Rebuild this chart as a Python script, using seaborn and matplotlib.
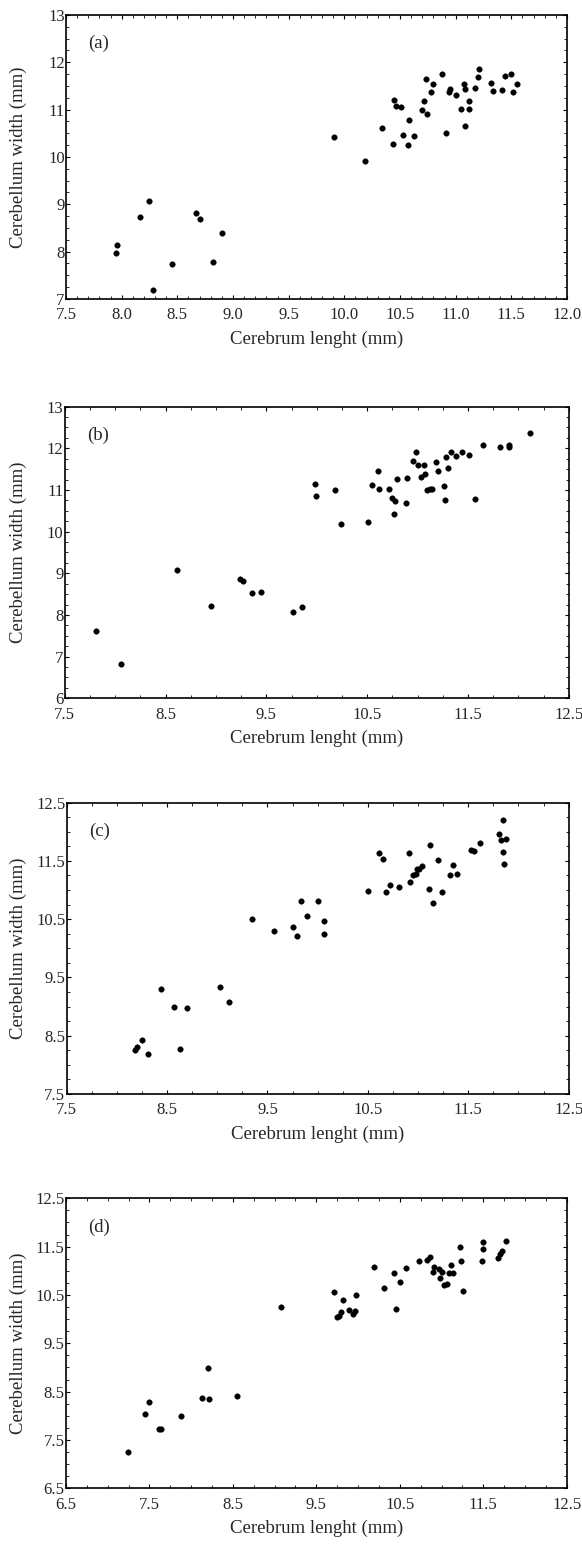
import numpy as np
import pandas as pd
import matplotlib
matplotlib.use("Agg")
import matplotlib.pyplot as plt
import seaborn as sns
from matplotlib.ticker import MultipleLocator, FixedLocator, FormatStrFormatter

# panel (a)
a_len = [7.955, 7.946, 8.168, 8.246, 8.279, 8.452, 8.671, 8.704, 8.824, 8.905,
         9.908, 10.183, 10.342, 10.444, 10.465, 10.513, 10.435, 10.525, 10.573, 10.582,
         10.624, 10.696, 10.717, 10.744, 10.738, 10.795, 10.783, 10.879, 10.915, 10.948,
         10.936, 11.002, 11.074, 11.086, 11.047, 11.119, 11.119, 11.086, 11.173, 11.197,
         11.209, 11.317, 11.338, 11.413, 11.446, 11.494, 11.512, 11.548]
a_wid = [8.13, 7.96, 8.72, 9.07, 7.19, 7.74, 8.81, 8.69, 7.79, 8.39,
         10.43, 9.91, 10.61, 11.20, 11.08, 11.06, 10.28, 10.47, 10.26, 10.77,
         10.45, 10.99, 11.18, 10.91, 11.65, 11.55, 11.38, 11.75, 10.51, 11.44,
         11.37, 11.31, 11.54, 11.44, 11.02, 11.17, 11.02, 10.65, 11.46, 11.68,
         11.86, 11.56, 11.39, 11.42, 11.70, 11.75, 11.38, 11.54]

# panel (b)
b_len = [7.808, 8.062, 8.614, 8.952, 9.243, 9.266, 9.355, 9.448, 9.762, 9.855,
         9.983, 9.990, 10.182, 10.238, 10.509, 10.552, 10.612, 10.622, 10.718, 10.751,
         10.777, 10.767, 10.800, 10.889, 10.899, 10.956, 10.989, 11.009, 11.062, 11.032,
         11.079, 11.098, 11.122, 11.148, 11.181, 11.201, 11.267, 11.271, 11.281, 11.307,
         11.337, 11.384, 11.440, 11.506, 11.572, 11.648, 11.814, 11.903, 11.907, 12.119]
b_wid = [7.62, 6.82, 9.08, 8.22, 8.86, 8.82, 8.53, 8.55, 8.08, 8.18,
         11.14, 10.86, 11.01, 10.18, 10.23, 11.11, 11.45, 11.03, 11.03, 10.80,
         10.74, 10.42, 11.26, 10.68, 11.29, 11.69, 11.92, 11.60, 11.60, 11.31,
         11.39, 11.00, 11.02, 11.03, 11.66, 11.46, 11.10, 10.76, 11.78, 11.52,
         11.92, 11.81, 11.90, 11.84, 10.78, 12.08, 12.02, 12.08, 12.02, 12.37]

# panel (c)
c_len = [8.184, 8.204, 8.247, 8.313, 8.443, 8.569, 8.695, 8.629, 9.024, 9.114,
         9.349, 9.568, 9.754, 9.794, 9.834, 9.890, 10.003, 10.063, 10.066, 10.504,
         10.607, 10.654, 10.677, 10.720, 10.813, 10.906, 10.920, 10.953, 10.979, 10.992,
         11.012, 11.039, 11.115, 11.112, 11.149, 11.202, 11.239, 11.318, 11.345, 11.388,
         11.528, 11.557, 11.617, 11.810, 11.826, 11.846, 11.879, 11.843, 11.853]
c_wid = [8.25, 8.31, 8.43, 8.19, 9.30, 9.00, 8.98, 8.28, 9.33, 9.07,
         10.50, 10.29, 10.36, 10.21, 10.81, 10.55, 10.81, 10.47, 10.25, 10.98,
         11.64, 11.54, 10.96, 11.09, 11.05, 11.64, 11.13, 11.26, 11.27, 11.36,
         11.36, 11.41, 11.77, 11.02, 10.77, 11.52, 10.96, 11.25, 11.43, 11.28,
         11.69, 11.67, 11.80, 11.97, 11.86, 12.20, 11.88, 11.65, 11.44]

# panel (d)
d_len = [7.239, 7.451, 7.491, 7.611, 7.643, 7.878, 8.130, 8.214, 8.202, 8.550,
         9.077, 9.716, 9.824, 9.980, 9.744, 9.772, 9.792, 9.896, 9.944, 9.968,
         10.192, 10.312, 10.428, 10.504, 10.452, 10.576, 10.728, 10.824, 10.860, 10.896,
         10.912, 10.964, 10.984, 11.004, 11.032, 11.064, 11.084, 11.112, 11.136, 11.224,
         11.236, 11.260, 11.484, 11.500, 11.500, 11.672, 11.696, 11.720, 11.776]
d_wid = [7.24, 8.03, 8.29, 7.73, 7.73, 8.00, 8.36, 8.34, 8.98, 8.41,
         10.25, 10.57, 10.40, 10.49, 10.05, 10.07, 10.14, 10.19, 10.10, 10.16,
         11.08, 10.65, 10.95, 10.77, 10.20, 11.06, 11.20, 11.22, 11.29, 10.98,
         11.08, 11.04, 10.86, 10.98, 10.71, 10.72, 10.95, 11.11, 10.95, 11.49,
         11.21, 10.58, 11.20, 11.60, 11.46, 11.27, 11.35, 11.41, 11.62]

# tick labels per panel
a_xticks = [7.5, 8.0, 8.5, 9.0, 9.5, 10.0, 10.5, 11.0, 11.5, 12.0]
a_yticks = [7, 8, 9, 10, 11, 12, 13]
b_xticks = [7.5, 8.5, 9.5, 10.5, 11.5, 12.5]
b_yticks = [6, 7, 8, 9, 10, 11, 12, 13]
c_xticks = [7.5, 8.5, 9.5, 10.5, 11.5, 12.5]
c_yticks = [7.5, 8.5, 9.5, 10.5, 11.5, 12.5]
d_xticks = [6.5, 7.5, 8.5, 9.5, 10.5, 11.5, 12.5]
d_yticks = [6.5, 7.5, 8.5, 9.5, 10.5, 11.5, 12.5]

panels = [
    ("(a)", a_len, a_wid, a_xticks, a_yticks, 0.1, 0.25, "%.1f", "%d"),
    ("(b)", b_len, b_wid, b_xticks, b_yticks, 0.25, 0.25, "%.1f", "%d"),
    ("(c)", c_len, c_wid, c_xticks, c_yticks, 0.25, 0.25, "%.1f", "%.1f"),
    ("(d)", d_len, d_wid, d_xticks, d_yticks, 0.25, 0.25, "%.1f", "%.1f"),
]

# axes boxes in figure fractions (left, bottom, width, height)
boxes = [
    (0.1134, 0.8069, 0.8608, 0.1835),
    (0.1112, 0.5489, 0.8660, 0.1884),
    (0.1146, 0.2933, 0.8625, 0.1882),
    (0.1134, 0.0386, 0.8603, 0.1873),
]

sns.set_style("ticks")
plt.rcParams['font.family'] = ['Liberation Serif', 'DejaVu Serif']

fig = plt.figure(figsize=(5.82, 15.48), dpi=100)

for (tag, xs, ys, xt, yt, xmin, ymin, xfmt, yfmt), box in zip(panels, boxes):
    ax = fig.add_axes(box)
    df = pd.DataFrame({"len": xs, "wid": ys})
    sns.scatterplot(data=df, x="len", y="wid", ax=ax, color="black",
                    s=16, edgecolor="black", linewidth=0.3)
    ax.set_xlim(xt[0], xt[-1])
    ax.set_ylim(yt[0], yt[-1])
    ax.xaxis.set_major_locator(FixedLocator(xt))
    ax.yaxis.set_major_locator(FixedLocator(yt))
    ax.xaxis.set_minor_locator(MultipleLocator(xmin))
    ax.yaxis.set_minor_locator(MultipleLocator(ymin))
    ax.xaxis.set_major_formatter(FormatStrFormatter(xfmt))
    ax.yaxis.set_major_formatter(FormatStrFormatter(yfmt))
    ax.tick_params(which="both", direction="in", top=True, right=True,
                   labelsize=12, color="black")
    ax.tick_params(axis="x", which="major", pad=6)
    ax.tick_params(axis="y", which="major", pad=1)
    ax.tick_params(which="major", length=3, width=0.8)
    ax.tick_params(which="minor", length=2, width=0.6)
    for sp in ax.spines.values():
        sp.set_linewidth(1.2)
        sp.set_color("black")
    ax.set_xlabel("Cerebrum lenght (mm)", fontsize=13.5, labelpad=5)
    ax.set_ylabel("Cerebellum width (mm)", fontsize=13.5)
    # y label centred at about x = 20 px in the figure
    left_px = box[0] * 582
    ax.yaxis.set_label_coords((27 - left_px) / (box[2] * 582), 0.5)
    ax.text(0.045, 0.9, tag, transform=ax.transAxes, fontsize=13.5, va="center")

fig.savefig("out.png", dpi=100)
